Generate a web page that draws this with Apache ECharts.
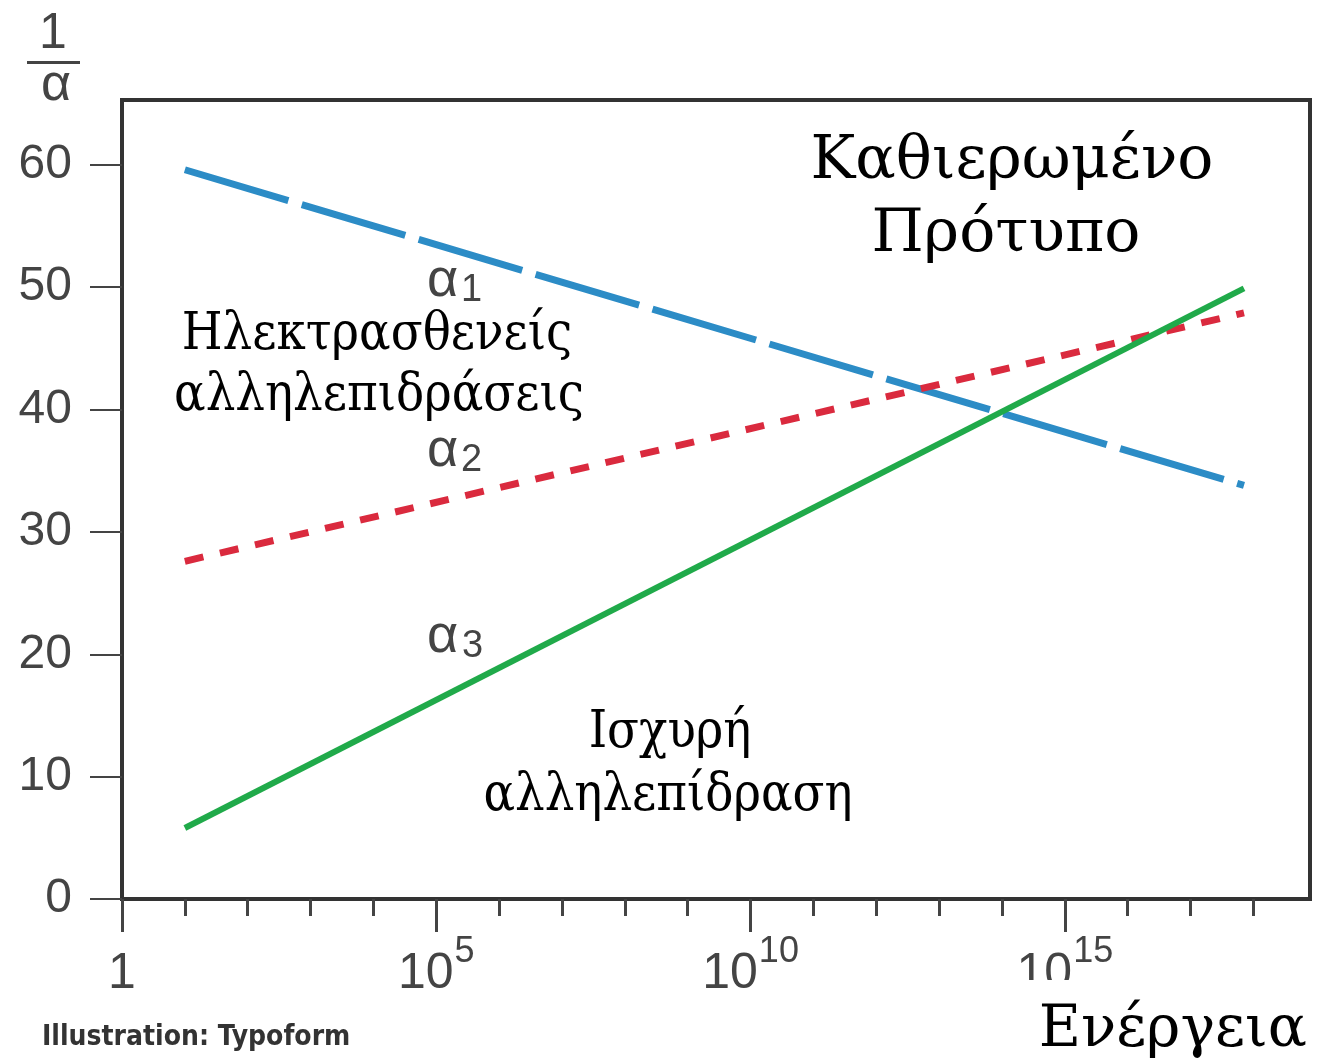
<!DOCTYPE html>
<html><head><meta charset="utf-8">
<script src="https://cdn.jsdelivr.net/npm/echarts@6/dist/echarts.min.js"></script>
<style>html,body{margin:0;padding:0;background:#fff}#c{width:1318px;height:1063px}</style>
</head><body><div id="c"></div>
<script>
// Energy in decades (log10 of energy), values of 1/alpha
const energyDecades = [1, 17.85];
const alpha1 = [59.6, 33.8];
const alpha2 = [27.6, 47.9];
const alpha3 = [5.8, 49.9];
const yTicks = [0, 10, 20, 30, 40, 50, 60];
const xMajorTicks = [0, 5, 10, 15];
const xMinorTicks = [1, 2, 3, 4, 6, 7, 8, 9, 11, 12, 13, 14, 16, 17, 18];

function pairs(xs, ys) { return xs.map((x, i) => [x, ys[i]]); }

const SANS = "'Liberation Sans', Arial, Helvetica, sans-serif";
const SERIF = "'DejaVu Serif', serif";
const SERIF_C = "'DejaVu Serif Condensed', 'DejaVu Serif', serif";
const GRAY = '#444';
const chart = echarts.init(document.getElementById('c'), null, {renderer: 'canvas'});

function txt(text, x, y, fs, opts) {
  return Object.assign({
    type: 'text', x: x, y: y, z: 100,
    style: Object.assign({text: text, fontSize: fs, fontFamily: SERIF, fill: '#000',
      align: 'center', verticalAlign: 'middle'}, (opts || {}).style || {})
  }, (opts || {}).el || {});
}

const option = {
  animation: false,
  grid: {left: 122, right: 8, top: 100, bottom: 164, show: true,
    borderColor: '#333', borderWidth: 4, backgroundColor: 'transparent'},
  xAxis: [{
    type: 'value', min: 0, max: 18.9, interval: 5, position: 'bottom',
    axisLine: {show: true, onZero: false, lineStyle: {color: '#333', width: 4}},
    axisTick: {show: true, customValues: xMajorTicks, length: 33, lineStyle: {color: GRAY, width: 3}},
    axisLabel: {
      customValues: xMajorTicks, margin: 35,
      formatter: v => v === 0 ? '{b|1}' : '{b|10}{s|' + v + '}',
      rich: {
        b: {fontSize: 50, lineHeight: 80, fontFamily: SANS, color: GRAY},
        s: {fontSize: 36, lineHeight: 38, verticalAlign: 'top', fontFamily: SANS, color: GRAY, padding: [0, 0, 0, 1]}
      }
    },
    splitLine: {show: false}
  }, {
    type: 'value', min: 0, max: 18.9, position: 'bottom',
    axisLine: {show: false, onZero: false},
    axisTick: {show: true, customValues: xMinorTicks, length: 17, lineStyle: {color: GRAY, width: 3}},
    axisLabel: {show: false},
    splitLine: {show: false}
  }],
  yAxis: {
    type: 'value', min: 0, max: 65.3, interval: 10,
    axisLine: {show: true, lineStyle: {color: '#333', width: 4}},
    axisTick: {show: true, customValues: yTicks, length: 32, lineStyle: {color: GRAY, width: 2}},
    axisLabel: {customValues: yTicks, margin: 50, fontSize: 48, fontFamily: SANS, color: GRAY},
    splitLine: {show: false}
  },
  series: [
    {name: 'α1', type: 'line', xAxisIndex: 0, data: pairs(energyDecades, alpha1), showSymbol: false,
      lineStyle: {color: '#2c8cc6', width: 7, type: [108, 14], cap: 'butt'}},
    {name: 'α2', type: 'line', xAxisIndex: 0, data: pairs(energyDecades, alpha2), showSymbol: false,
      lineStyle: {color: '#da2a3e', width: 7, type: [19, 17], cap: 'butt'}},
    {name: 'α3', type: 'line', xAxisIndex: 0, data: pairs(energyDecades, alpha3), showSymbol: false,
      lineStyle: {color: '#20aa4a', width: 6, type: 'solid'}}
  ],
  graphic: [
    // y axis title 1/α
    txt('1', 53, 34, 50, {style: {fontFamily: SANS, fill: GRAY}}),
    {type: 'rect', z: 100, shape: {x: 27, y: 61, width: 53, height: 3}, style: {fill: GRAY}},
    txt('α', 56, 86, 52, {style: {fontFamily: SANS, fill: GRAY}}),
    // alpha labels
    txt('α', 427, 281, 54, {style: {fontFamily: SANS, fill: GRAY, align: 'left'}}),
    txt('1', 461, 291, 38, {style: {fontFamily: SANS, fill: GRAY, align: 'left'}}),
    txt('α', 427, 451, 54, {style: {fontFamily: SANS, fill: GRAY, align: 'left'}}),
    txt('2', 461, 461, 38, {style: {fontFamily: SANS, fill: GRAY, align: 'left'}}),
    txt('α', 427, 637, 54, {style: {fontFamily: SANS, fill: GRAY, align: 'left'}}),
    txt('3', 462, 647, 38, {style: {fontFamily: SANS, fill: GRAY, align: 'left'}}),
    // annotations
    txt('Καθιερωμένο', 1012, 162, 60),
    txt('Πρότυπο', 1006, 235, 60),
    txt('Ηλεκτρασθενείς', 377, 335, 52, {style: {fontFamily: SERIF_C}}),
    txt('αλληλεπιδράσεις', 379, 396, 52, {style: {fontFamily: SERIF_C}}),
    txt('Ισχυρή', 670, 733, 52, {style: {fontFamily: SERIF_C}}),
    txt('αλληλεπίδραση', 668, 796, 52, {style: {fontFamily: SERIF_C}}),
    // x-axis title with white backing
    {type: 'rect', z: 99, shape: {x: 995, y: 980, width: 323, height: 83}, style: {fill: '#fff'}},
    txt('Ενέργεια', 1307, 1031, 58, {style: {align: 'right'}}),
    txt('Illustration: Typoform', 42, 1038, 28,
      {style: {align: 'left', fontFamily: "'DejaVu Sans Condensed', 'DejaVu Sans', sans-serif", fontWeight: 'bold', fill: '#333'}})
  ]
};
chart.setOption(option);
</script>
</body></html>
